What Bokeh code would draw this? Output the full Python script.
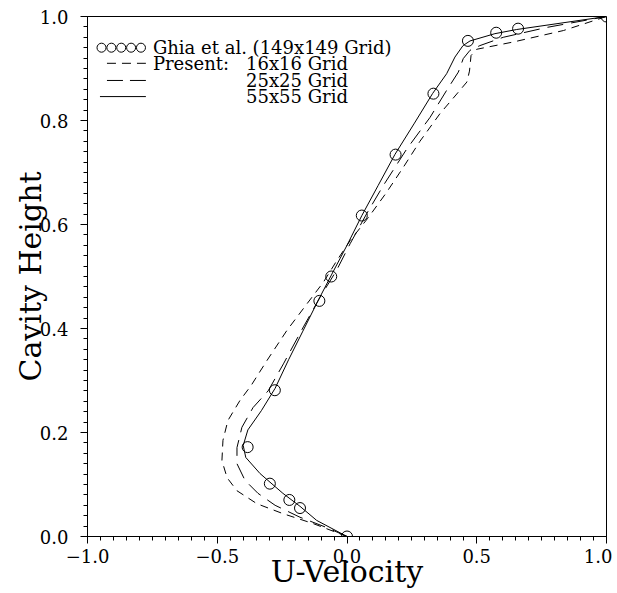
import numpy as np
from bokeh.plotting import figure
from bokeh.models import Range1d, FixedTicker, CustomJSTickFormatter, Label
from bokeh.embed import file_html
from bokeh.resources import INLINE

# ---------------- data ----------------
# Ghia et al. (149x149 grid) reference points
ghia_u = [1.0, 0.65928, 0.57492, 0.46604, 0.33304, 0.18719, 0.05702, -0.06080,
          -0.10648, -0.27805, -0.38289, -0.29730, -0.22220, -0.18109, 0.0]
ghia_y = [1.0, 0.9766, 0.9688, 0.9531, 0.8516, 0.7344, 0.6172, 0.5,
          0.4531, 0.2813, 0.1719, 0.1016, 0.0703, 0.0547, 0.0]

# Present: 16x16 grid (short dashes)
g16_u = [0.0, -0.131, -0.247, -0.347, -0.424, -0.462, -0.482, -0.478, -0.459, -0.412,
         -0.370, -0.309, -0.232, -0.155, -0.091, -0.040, 0.012, 0.080, 0.150, 0.217,
         0.281, 0.358, 0.423, 0.462, 0.472, 0.478, 0.500, 0.641, 0.834, 1.0]
g16_y = [0.0, 0.025, 0.044, 0.063, 0.088, 0.113, 0.146, 0.185, 0.223, 0.262,
         0.290, 0.338, 0.396, 0.447, 0.489, 0.530, 0.569, 0.612, 0.660, 0.710,
         0.760, 0.813, 0.851, 0.874, 0.895, 0.925, 0.937, 0.951, 0.973, 1.0]

# Present: 25x25 grid (long dashes)
g25_u = [0.0, -0.077, -0.181, -0.277, -0.343, -0.393, -0.424, -0.424, -0.405, -0.362,
         -0.304, -0.245, -0.168, -0.104, -0.040, 0.012, 0.076, 0.140, 0.230, 0.320,
         0.384, 0.429, 0.448, 0.474, 0.512, 0.602, 0.770, 1.0]
g25_y = [0.0, 0.017, 0.037, 0.060, 0.083, 0.108, 0.140, 0.171, 0.210, 0.248,
         0.280, 0.332, 0.403, 0.460, 0.512, 0.563, 0.621, 0.675, 0.745, 0.806,
         0.858, 0.893, 0.919, 0.935, 0.944, 0.960, 0.979, 1.0]

# Present: 55x55 grid (solid)
g55_u = [0.0, -0.117, -0.181, -0.247, -0.335, -0.390, -0.400, -0.382, -0.330, -0.277,
         -0.225, -0.170, -0.110, -0.060, 0.0, 0.057, 0.120, 0.185, 0.260, 0.330,
         0.384, 0.416, 0.447, 0.474, 0.570, 0.654, 1.0]
g55_y = [0.0, 0.031, 0.058, 0.083, 0.121, 0.152, 0.175, 0.205, 0.242, 0.285,
         0.340, 0.395, 0.455, 0.503, 0.560, 0.617, 0.675, 0.735, 0.795, 0.852,
         0.890, 0.922, 0.944, 0.953, 0.967, 0.975, 1.0]

x_ticks = [-1.0, -0.5, 0.0, 0.5, 1.0]
y_ticks = [0.0, 0.2, 0.4, 0.6, 0.8, 1.0]

legend_labels = ["Ghia et al. (149x149 Grid)", "Present:", "16x16 Grid", "25x25 Grid", "55x55 Grid"]
x_title = "U-Velocity"
y_title = "Cavity Height"

# ---------------- styles ----------------
FONT = "DejaVu Serif"
SHORT_DASH = "8 6"
LONG_DASH = "16 8"

p = figure(width=612, height=592, x_range=Range1d(-1, 1), y_range=Range1d(0, 1),
           output_backend="svg", toolbar_location=None,
           min_border_top=16, min_border_right=6, min_border_left=87, min_border_bottom=56,
           x_axis_label=x_title, y_axis_label=y_title)
p.xgrid.visible = False
p.ygrid.visible = False
p.outline_line_color = "black"
p.outline_line_alpha = 1.0
p.outline_line_width = 1
p.background_fill_color = "white"
p.border_fill_color = "white"

p.xaxis.ticker = FixedTicker(ticks=x_ticks,
                             minor_ticks=[round(v, 3) for v in np.arange(-1.0, 1.0001, 0.05)])
p.yaxis.ticker = FixedTicker(ticks=y_ticks,
                             minor_ticks=[round(v, 3) for v in np.arange(0.0, 1.0001, 0.02)])
p.xaxis.formatter = CustomJSTickFormatter(
    code="return (tick < -1e-9 ? '\u2212' : '') + Math.abs(tick).toFixed(1);")
p.yaxis.formatter = CustomJSTickFormatter(code="return Math.abs(tick).toFixed(1);")

for ax in (p.xaxis[0], p.yaxis[0]):
    ax.axis_line_color = "black"
    ax.axis_line_width = 1
    ax.major_tick_line_color = "black"
    ax.minor_tick_line_color = "black"
    ax.major_tick_in = 0
    ax.major_tick_out = 7
    ax.minor_tick_in = 0
    ax.minor_tick_out = 4
    ax.major_label_text_font = FONT
    ax.major_label_text_font_size = "18px"
    ax.major_label_text_color = "black"
    ax.axis_label_text_font = FONT
    ax.axis_label_text_font_size = "30px"
    ax.axis_label_text_font_style = "normal"
    ax.axis_label_text_color = "black"

p.xaxis.major_label_standoff = 5
p.xaxis.axis_label_standoff = -12
p.yaxis.major_label_standoff = 12
p.yaxis.axis_label_standoff = -11

# ---------------- curves ----------------
p.line(g16_u, g16_y, line_color="black", line_width=1, line_dash=SHORT_DASH)
p.line(g25_u, g25_y, line_color="black", line_width=1, line_dash=LONG_DASH)
p.line(g55_u, g55_y, line_color="black", line_width=1)
p.scatter(ghia_u, ghia_y, marker="circle", size=11, fill_color=None,
          line_color="black", line_width=1)

# ---------------- legend (drawn in data units inside the frame) ----------------
row_y = [0.940, 0.910, 0.877, 0.846]
circ_x = [-0.946, -0.908, -0.870, -0.832, -0.794]
sample_x0, sample_x1, solid_x0 = -0.925, -0.775, -0.952
text_x, text_x2 = -0.748, -0.389

p.scatter(circ_x, [row_y[0]] * len(circ_x), marker="circle", size=9,
          fill_color=None, line_color="black", line_width=1)
p.line([sample_x0, sample_x1], [row_y[1]] * 2, line_color="black", line_width=1, line_dash="9 6")
p.line([sample_x0, sample_x1], [row_y[2]] * 2, line_color="black", line_width=1, line_dash="16 7")
p.line([solid_x0, sample_x1], [row_y[3]] * 2, line_color="black", line_width=1)

label_pos = [(text_x, row_y[0]), (text_x, row_y[1]), (text_x2, row_y[1]),
             (text_x2, row_y[2]), (text_x2, row_y[3])]
for txt, (lx, ly) in zip(legend_labels, label_pos):
    p.add_layout(Label(x=lx, y=ly, text=txt, text_font=FONT, text_font_size="18px",
                       text_color="black", text_baseline="middle", text_align="left"))

open("out.html", "w").write(file_html(p, INLINE))
